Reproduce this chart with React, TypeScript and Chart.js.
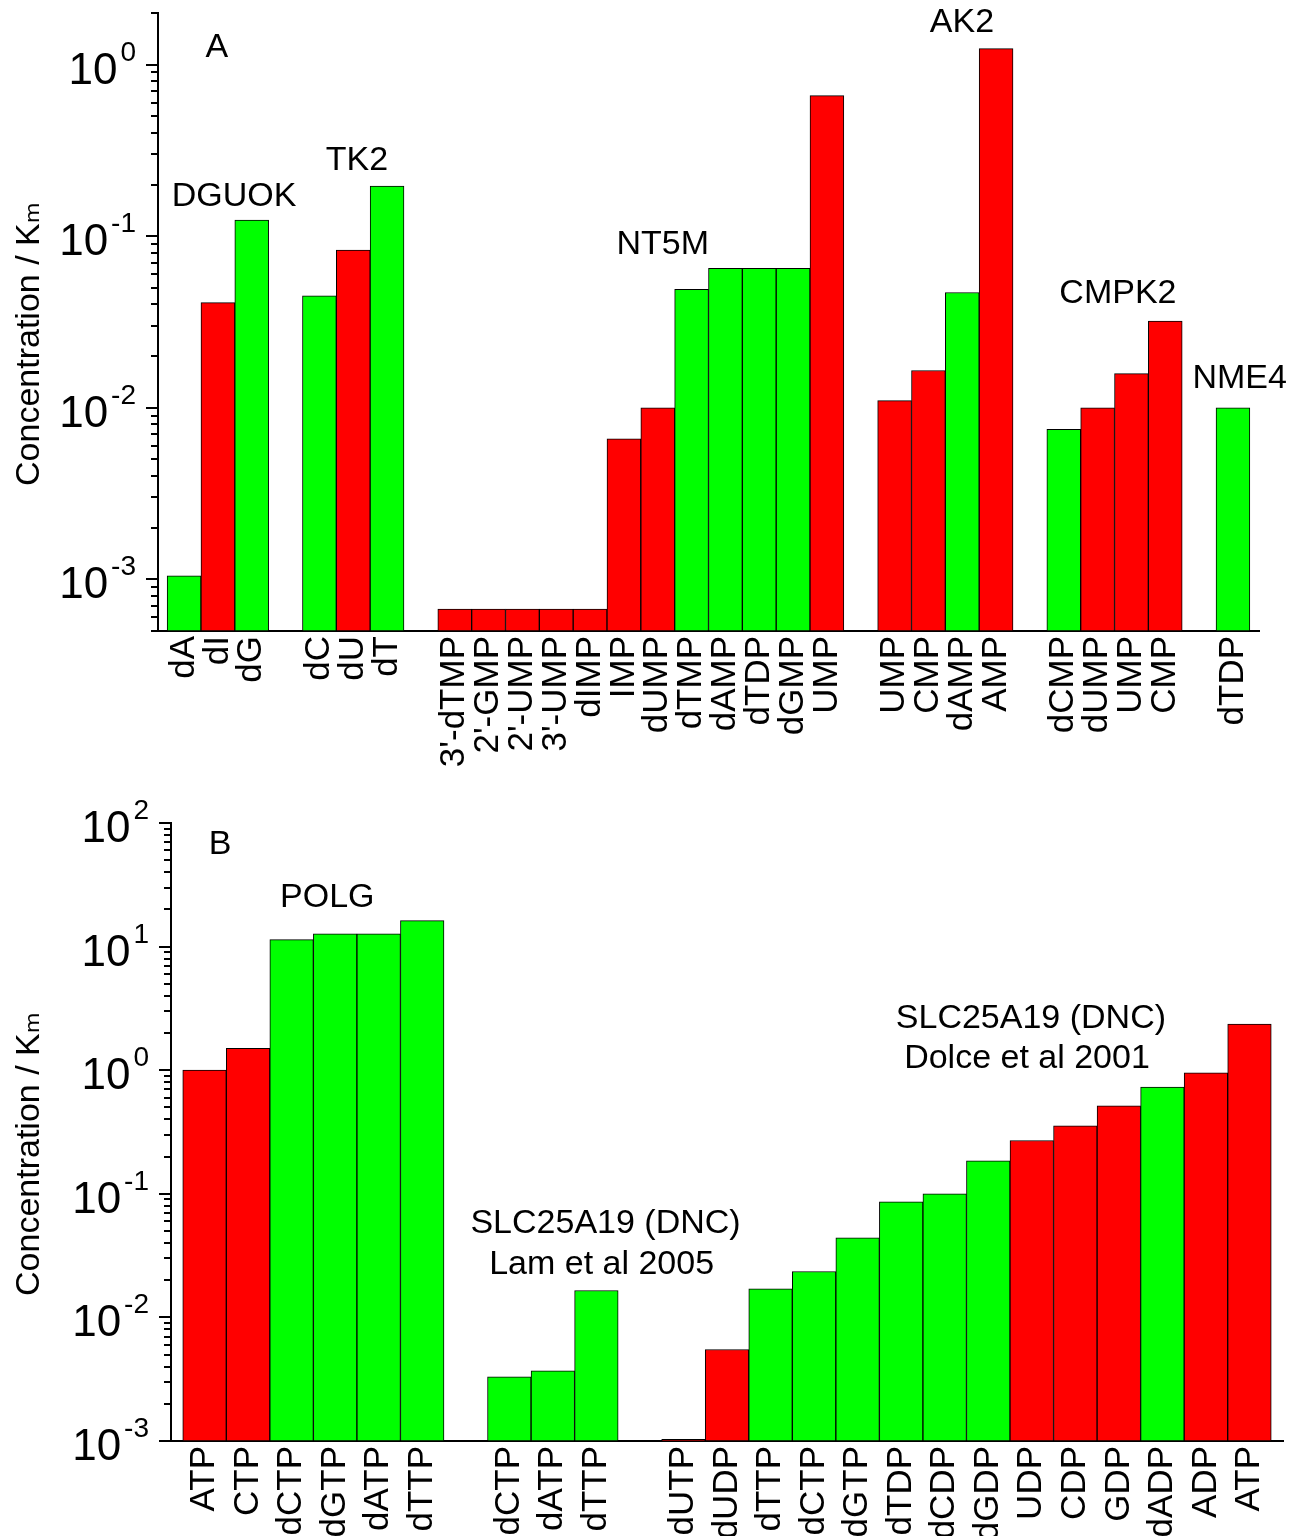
import React, { useEffect, useRef } from 'react';
import { Chart, registerables } from 'chart.js';

Chart.register(...registerables);

const FONT = "'Liberation Sans', Arial, 'DejaVu Sans', sans-serif";
const RED = '#FF0000';
const GREEN = '#00FF00';

// ---------- Panel A ----------
const categoriesA = [
  'dA', 'dI', 'dG', '',
  'dC', 'dU', 'dT', '',
  "3'-dTMP", "2'-GMP", "2'-UMP", "3'-UMP", 'dIMP', 'IMP', 'dUMP', 'dTMP', 'dAMP', 'dTDP', 'dGMP', 'UMP', '',
  'UMP', 'CMP', 'dAMP', 'AMP', '',
  'dCMP', 'dUMP', 'UMP', 'CMP', '',
  'dTDP',
];
const valuesA: (number | null)[] = [
  1.05e-3, 4.1e-2, 0.124, null,
  4.5e-2, 8.3e-2, 0.196, null,
  6.7e-4, 6.7e-4, 6.7e-4, 6.7e-4, 6.7e-4, 6.6e-3, 1.0e-2, 4.9e-2, 6.5e-2, 6.5e-2, 6.5e-2, 0.66, null,
  1.1e-2, 1.65e-2, 4.7e-2, 1.24, null,
  7.5e-3, 1.0e-2, 1.58e-2, 3.2e-2, null,
  1.0e-2,
];
const colorsA = [
  'g', 'r', 'g', '',
  'g', 'r', 'g', '',
  'r', 'r', 'r', 'r', 'r', 'r', 'r', 'g', 'g', 'g', 'g', 'r', '',
  'r', 'r', 'g', 'r', '',
  'g', 'r', 'r', 'r', '',
  'g',
];
const yTicksA = [1e-3, 1e-2, 1e-1, 1];
const yTickExpA = ['-3', '-2', '-1', '0'];
const notesA = [
  { text: 'A', x: 0.97, y: 1.26 },
  { text: 'DGUOK', x: 1.48, y: 0.17 },
  { text: 'TK2', x: 5.11, y: 0.276 },
  { text: 'NT5M', x: 14.15, y: 0.0895 },
  { text: 'AK2', x: 22.99, y: 1.76 },
  { text: 'CMPK2', x: 27.6, y: 0.0464 },
  { text: 'NME4', x: 31.2, y: 0.0148 },
];

// ---------- Panel B ----------
const categoriesB = [
  'ATP', 'CTP', 'dCTP', 'dGTP', 'dATP', 'dTTP', '',
  'dCTP', 'dATP', 'dTTP', '',
  'dUTP', 'dUDP', 'dTTP', 'dCTP', 'dGTP', 'dTDP', 'dCDP', 'dGDP', 'UDP', 'CDP', 'GDP', 'dADP', 'ADP', 'ATP',
];
const valuesB: (number | null)[] = [
  1.0, 1.5, 11.4, 12.7, 12.7, 16.2, null,
  3.3e-3, 3.7e-3, 1.65e-2, null,
  1.03e-3, 5.5e-3, 1.7e-2, 2.35e-2, 4.4e-2, 8.6e-2, 0.1, 0.185, 0.27, 0.355, 0.515, 0.73, 0.95, 2.36,
];
const colorsB = [
  'r', 'r', 'g', 'g', 'g', 'g', '',
  'g', 'g', 'g', '',
  'r', 'r', 'g', 'g', 'g', 'g', 'g', 'g', 'r', 'r', 'r', 'g', 'r', 'r',
];
const yTicksB = [1e-3, 1e-2, 1e-1, 1, 10, 100];
const yTickExpB = ['-3', '-2', '-1', '0', '1', '2'];
const notesB = [
  { text: 'B', x: 0.36, y: 67.4 },
  { text: 'POLG', x: 2.82, y: 25.1 },
  { text: 'SLC25A19 (DNC)', x: 9.21, y: 0.0578 },
  { text: 'Lam et al 2005', x: 9.12, y: 0.0269 },
  { text: 'SLC25A19 (DNC)', x: 18.98, y: 2.59 },
  { text: 'Dolce et al 2001', x: 18.89, y: 1.23 },
];

const Y_TITLE = 'Concentration / Kₘ';

type PanelProps = {
  categories: string[];
  values: (number | null)[];
  colors: string[];
  yMin: number;
  yMax: number;
  yTicks: number[];
  yTickExp: string[];
  notes: { text: string; x: number; y: number }[];
  width: number;
  height: number;
  yAxisWidth: number;
  xAxisHeight: number;
  padTop: number;
  padRight: number;
};

function Panel(p: PanelProps) {
  const ref = useRef<HTMLCanvasElement | null>(null);
  useEffect(() => {
    if (!ref.current) return;
    const points: { x: number; y: number }[] = [];
    const bg: string[] = [];
    p.values.forEach((v, i) => {
      if (v !== null) {
        points.push({ x: i, y: v });
        bg.push(p.colors[i] === 'r' ? RED : GREEN);
      }
    });
    const tickIdx = p.categories.map((c, i) => (c ? i : -1)).filter((i) => i >= 0);

    const extras = {
      id: 'extras',
      afterDraw(chart: any) {
        const ctx = chart.ctx;
        const ys = chart.scales.y;
        const xs = chart.scales.x;
        const area = chart.chartArea;
        ctx.save();
        // log tick marks (major + minor), outside the axis
        ctx.strokeStyle = '#000';
        ctx.lineWidth = 2;
        const e0 = Math.floor(Math.log10(ys.min));
        const e1 = Math.ceil(Math.log10(ys.max));
        for (let e = e0; e <= e1; e++) {
          for (let m = 1; m <= 9; m++) {
            const v = m * Math.pow(10, e);
            if (v < ys.min * 0.999 || v > ys.max * 1.001) continue;
            const py = Math.round(ys.getPixelForValue(v));
            const len = m === 1 ? 12 : 7;
            ctx.beginPath();
            ctx.moveTo(area.left - len, py);
            ctx.lineTo(area.left, py);
            ctx.stroke();
          }
        }
        // y tick labels: 10 with superscript exponent
        ctx.fillStyle = '#000';
        ctx.textAlign = 'right';
        ctx.textBaseline = 'alphabetic';
        const right = area.left - 22;
        p.yTicks.forEach((t, i) => {
          const py = ys.getPixelForValue(t);
          const exp = p.yTickExp[i];
          ctx.font = `28px ${FONT}`;
          const ew = ctx.measureText(exp).width;
          ctx.fillText(exp, right, py - 4);
          ctx.font = `44px ${FONT}`;
          ctx.fillText('10', right - ew - 3, py + 19);
        });
        // y axis title (rotated)
        ctx.save();
        ctx.translate(30, (area.top + area.bottom) / 2 + 22);
        ctx.rotate(-Math.PI / 2);
        ctx.font = `34px ${FONT}`;
        ctx.textAlign = 'center';
        ctx.textBaseline = 'middle';
        ctx.fillText(Y_TITLE, 0, 0);
        ctx.restore();
        // annotations
        ctx.font = `34px ${FONT}`;
        ctx.textAlign = 'center';
        ctx.textBaseline = 'middle';
        p.notes.forEach((n) => {
          ctx.fillText(n.text, xs.getPixelForValue(n.x), ys.getPixelForValue(n.y));
        });
        ctx.restore();
      },
    };

    const chart = new Chart(ref.current, {
      type: 'bar',
      data: {
        datasets: [
          {
            data: points as any,
            backgroundColor: bg,
            borderColor: '#000',
            borderWidth: 1,
            borderSkipped: false,
            categoryPercentage: 1,
            barPercentage: 1,
          },
        ],
      },
      options: {
        animation: false,
        responsive: false,
        devicePixelRatio: 1,
        layout: { padding: { top: p.padTop, right: p.padRight, left: 0, bottom: 0 } },
        plugins: {
          legend: { display: false },
          tooltip: { enabled: false },
          title: { display: false },
        },
        scales: {
          x: {
            type: 'linear',
            offset: false,
            min: -0.77,
            max: p.categories.length - 1 + 0.77,
            grid: { display: false, drawTicks: false },
            border: { display: true, color: '#000', width: 2 },
            afterBuildTicks: (s: any) => {
              s.ticks = tickIdx.map((i) => ({ value: i }));
            },
            afterFit: (s: any) => {
              s.height = p.xAxisHeight;
              s.paddingLeft = 0;
              s.paddingRight = 0;
            },
            ticks: {
              autoSkip: false,
              minRotation: 90,
              maxRotation: 90,
              padding: 5,
              color: '#000',
              font: { family: FONT, size: 35 },
              callback: (v: any) => p.categories[Math.round(Number(v))] || '',
            },
          },
          y: {
            type: 'logarithmic',
            min: p.yMin,
            max: p.yMax,
            grid: { display: false, drawTicks: false },
            border: { display: true, color: '#000', width: 2 },
            afterBuildTicks: (s: any) => {
              s.ticks = p.yTicks.map((v) => ({ value: v, major: true }));
            },
            afterFit: (s: any) => {
              s.width = p.yAxisWidth;
              s.paddingTop = 0;
              s.paddingBottom = 0;
            },
            ticks: { display: false },
            title: { display: false },
          },
        },
      },
      plugins: [extras],
    } as any);
    return () => chart.destroy();
  }, []);
  return <canvas ref={ref} width={p.width} height={p.height} style={{ display: 'block', width: p.width, height: p.height }} />;
}

export default function App() {
  useEffect(() => {
    document.body.style.margin = '0';
    document.body.style.background = '#fff';
  }, []);
  return (
    <div style={{ width: 1299, height: 1536, background: '#fff' }}>
      <Panel
        categories={categoriesA}
        values={valuesA}
        colors={colorsA}
        yMin={5e-4}
        yMax={2}
        yTicks={yTicksA}
        yTickExp={yTickExpA}
        notes={notesA}
        width={1299}
        height={770}
        yAxisWidth={158}
        xAxisHeight={139}
        padTop={13}
        padRight={40}
      />
      <Panel
        categories={categoriesB}
        values={valuesB}
        colors={colorsB}
        yMin={1e-3}
        yMax={100}
        yTicks={yTicksB}
        yTickExp={yTickExpB}
        notes={notesB}
        width={1299}
        height={766}
        yAxisWidth={171}
        xAxisHeight={95}
        padTop={53}
        padRight={16}
      />
    </div>
  );
}
